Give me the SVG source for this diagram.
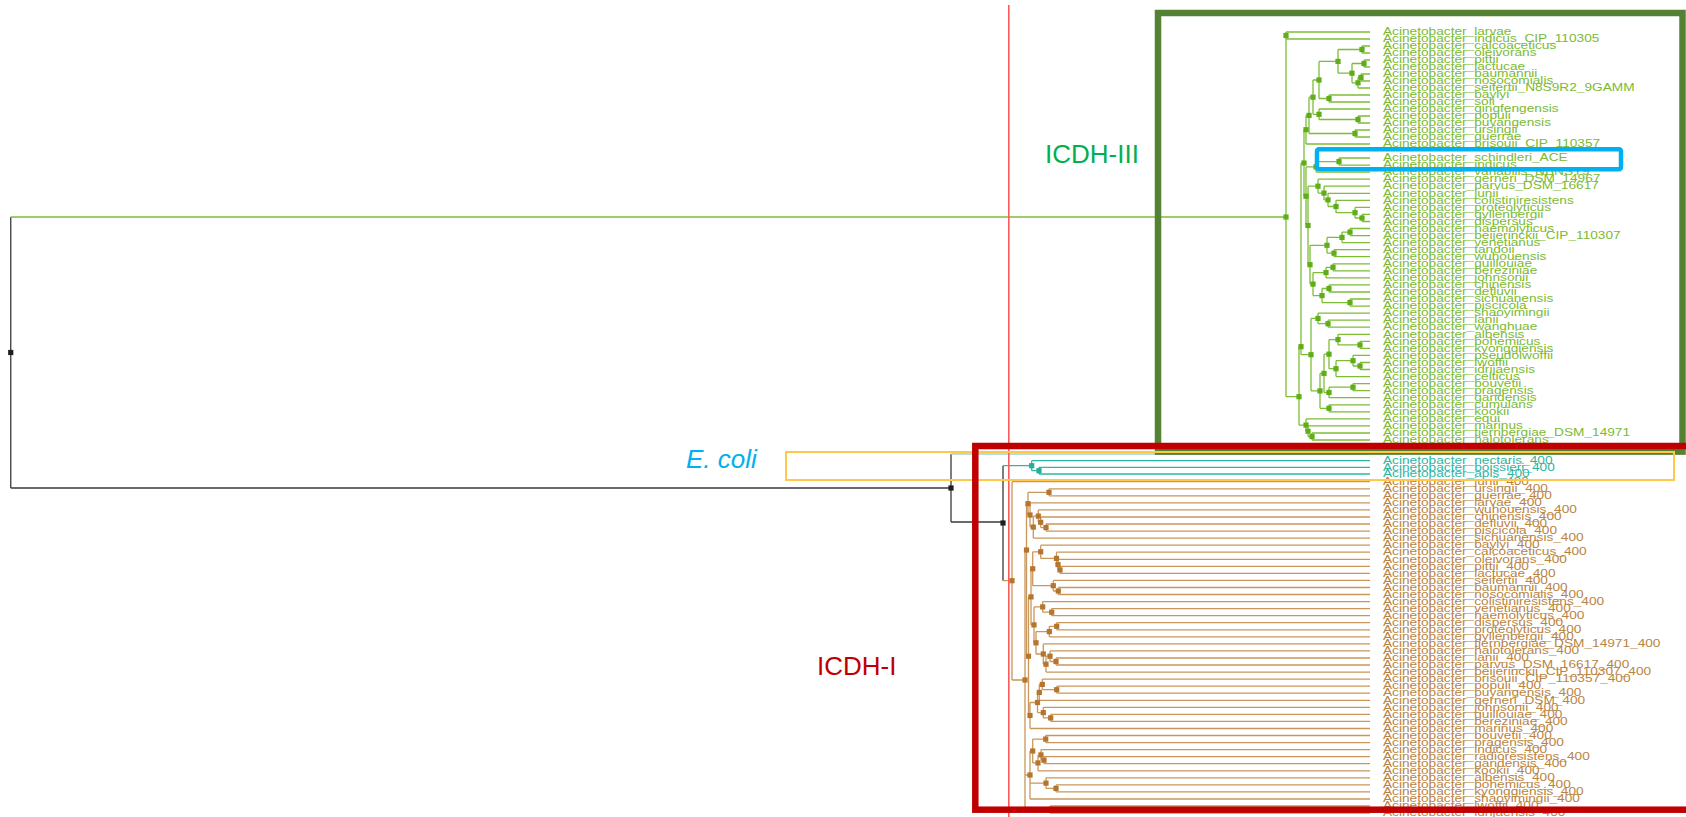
<svg xmlns="http://www.w3.org/2000/svg" xmlns:xlink="http://www.w3.org/1999/xlink" width="1686" height="817" viewBox="0 0 1686 817">
<style>
.gl{fill:none;stroke:#7dbd38;stroke-width:1.3}
.bl{fill:none;stroke:#c9975b;stroke-width:1.3}
.cl{fill:none;stroke:#2cb8a4;stroke-width:1.3}
.kl{fill:none;stroke:#3a3a3a;stroke-width:1.3}
.el{fill:none;stroke:#9fd2cf;stroke-width:1.3}
.lab text{font-family:"Liberation Sans",Arial,sans-serif;font-size:11.8px}
.tg text{fill:#7cba33}
.tb text{fill:#b98443}
.tc text{fill:#2fb4a4}
.big{font-family:"Liberation Sans",Arial,sans-serif;font-size:26px}
</style>
<defs>
<rect id="sq" x="-2.6" y="-2.6" width="5.2" height="5.2"/>
</defs>
<rect width="1686" height="817" fill="#ffffff"/>

<!-- connectors: branches of the tree -->
<g id="connectors">
<path class="kl" d="M10.75 217V488M10.75 488H951M951 454V522M951 522H1003M1003 465.7V580.7"/>
<path class="el" d="M951 454H1370"/>
<path class="gl" d="M10.75 217H1286M1286 32V39M1286 35.5V396.7"/>
<path class="gl" d="M1286 32H1370M1286 39H1370M1362 46H1370M1362 53H1370M1364 60H1370M1364 67H1370M1361 74H1370M1361 81H1370M1358 88H1370M1329 95H1370M1329 102H1370M1319 109H1370M1358 116H1370M1358 123H1370M1355 130H1370M1355 137H1370M1306 144H1370M1339 158H1370M1339 165.1H1370M1316 172.1H1370M1318 179.2H1370M1324 186.2H1370M1328 193.3H1370M1336 200.3H1370M1355 207.4H1370M1362 214.4H1370M1362 221.5H1370M1350 228.5H1370M1350 235.6H1370M1342 242.6H1370M1334 249.7H1370M1334 256.7H1370M1333 263.8H1370M1333 270.8H1370M1326 277.9H1370M1329 284.9H1370M1329 292H1370M1350 299H1370M1350 306.1H1370M1318 313.1H1370M1328 320.2H1370M1328 327.2H1370M1338 334.3H1370M1360 341.3H1370M1360 348.4H1370M1353 355.4H1370M1360 362.5H1370M1360 369.5H1370M1336 376.6H1370M1353 383.6H1370M1353 390.7H1370M1329 397.7H1370M1329 404.8H1370M1329 411.8H1370M1306 418.9H1370M1308 425.9H1370M1312 433H1370M1312 440H1370"/>
<path class="gl" d="M1338 49.5H1362M1362 46V53M1352 63.5H1364M1364 60V67M1358 77.5H1361M1361 74V81M1352 82.8H1358M1358 77.5V88M1338 73.2H1352M1352 63.5V82.8M1319 61.4H1338M1338 49.5V73.2M1319 98.5H1329M1329 95V102M1313 80H1319M1319 61.4V98.5M1319 119.5H1358M1358 116V123M1313 114.3H1319M1319 109V119.5M1309 97.2H1313M1313 80V114.3M1309 133.5H1355M1355 130V137M1306 115.4H1309M1309 97.2V133.5M1304 129.7H1306M1306 115.4V144M1316 161.6H1339M1339 158V165.1M1306 166.9H1316M1316 161.6V172.1M1355 218H1362M1362 214.4V221.5M1336 212.7H1355M1355 207.4V218M1328 206.5H1336M1336 200.3V212.7M1324 199.9H1328M1328 193.3V206.5M1318 193.1H1324M1324 186.2V199.9M1308 186.2H1318M1318 179.2V193.1M1342 232.1H1350M1350 228.5V235.6M1327 237.4H1342M1342 232.1V242.6M1327 253.2H1334M1334 249.7V256.7M1310 245.3H1327M1327 237.4V253.2M1326 267.3H1333M1333 263.8V270.8M1313 272.6H1326M1326 267.3V277.9M1322 288.5H1329M1329 284.9V292M1322 302.6H1350M1350 299V306.1M1313 295.6H1322M1322 288.5V302.6M1310 284.1H1313M1313 272.6V295.6M1308 264.7H1310M1310 245.3V284.1M1306 225.5H1308M1308 186.2V264.7M1304 196.2H1306M1306 166.9V225.5M1301 163H1304M1304 129.7V196.2M1318 323.7H1328M1328 320.2V327.2M1311 318.4H1318M1318 313.1V323.7M1338 344.9H1360M1360 341.3V348.4M1329 339.6H1338M1338 334.3V344.9M1353 366H1360M1360 362.5V369.5M1336 360.7H1353M1353 355.4V366M1329 368.7H1336M1336 360.7V376.6M1324 354.2H1329M1329 339.6V368.7M1329 387.2H1353M1353 383.6V390.7M1324 392.5H1329M1329 387.2V397.7M1320 373.4H1324M1324 354.2V392.5M1320 408.3H1329M1329 404.8V411.8M1311 390.9H1320M1320 373.4V408.3M1301 354.7H1311M1311 318.4V390.9M1308 436.5H1312M1312 433V440M1306 431.2H1308M1308 425.9V436.5M1299 425.1H1306M1306 418.9V431.2M1299 346.7H1301M1301 163V354.7M1286 396.7H1299M1299 346.7V425.1"/>
<path class="cl" d="M1003 465.7H1031.7M1031.7 460.7V470.7M1031.7 470.7H1039M1039 467.3V474M1031.7 460.7H1370M1039 467.3H1370M1039 474H1370"/>
<path class="bl" d="M1003 580.7H1012M1012 481.7V680M1012 680H1025M1025 550V809.5"/>
<path class="bl" d="M1012 481.7H1370M1049 488.8H1370M1049 495.8H1370M1030 502.9H1370M1038.3 509.9H1370M1040.7 517H1370M1046 524H1370M1046 531.1H1370M1033.3 538.1H1370M1040.7 545.2H1370M1056.5 552.2H1370M1058 559.3H1370M1060 566.3H1370M1060 573.4H1370M1053.3 580.4H1370M1058.3 587.5H1370M1058.3 594.5H1370M1042.7 601.6H1370M1051.7 608.6H1370M1051.7 615.7H1370M1056.7 622.7H1370M1056.7 629.8H1370M1049.3 636.8H1370M1043.3 643.9H1370M1050 650.9H1370M1056 658H1370M1056 665H1370M1046 672.1H1370M1042.3 679.1H1370M1056.7 686.2H1370M1056.7 693.2H1370M1039.3 700.3H1370M1043.3 707.3H1370M1050.7 714.4H1370M1050.7 721.4H1370M1030 728.5H1370M1045.7 735.5H1370M1045.7 742.6H1370M1041 749.6H1370M1044 756.7H1370M1044 763.7H1370M1038 770.8H1370M1046 777.8H1370M1056 784.9H1370M1056 791.9H1370M1030 799H1370M1050 806H1370M1050 813.1H1370"/>
<path class="bl" d="M1028 492.3H1049M1049 488.8V495.8M1040.7 527.6H1046M1046 524V531.1M1038.3 522.3H1040.7M1040.7 517V527.6M1033.3 516.1H1038.3M1038.3 509.9V522.3M1030 527.1H1033.3M1033.3 516.1V538.1M1028 515H1030M1030 502.9V527.1M1026.5 503.7H1028M1028 492.3V515M1058 569.9H1060M1060 566.3V573.4M1056.5 564.6H1058M1058 559.3V569.9M1040.7 558.4H1056.5M1056.5 552.2V564.6M1032.7 551.8H1040.7M1040.7 545.2V558.4M1053.3 591H1058.3M1058.3 587.5V594.5M1032.7 585.7H1053.3M1053.3 580.4V591M1031 568.8H1032.7M1032.7 551.8V585.7M1042.7 612.2H1051.7M1051.7 608.6V615.7M1034 606.9H1042.7M1042.7 601.6V612.2M1049.3 626.3H1056.7M1056.7 622.7V629.8M1036 631.6H1049.3M1049.3 626.3V636.8M1050 661.5H1056M1056 658V665M1046 656.2H1050M1050 650.9V661.5M1043.3 664.2H1046M1046 656.2V672.1M1036 654H1043.3M1043.3 643.9V664.2M1034 642.8H1036M1036 631.6V654M1031 624.9H1034M1034 606.9V642.8M1028.5 596.9H1031M1031 568.8V624.9M1042.3 689.7H1056.7M1056.7 686.2V693.2M1039.3 684.4H1042.3M1042.3 679.1V689.7M1037.5 692.4H1039.3M1039.3 684.4V700.3M1043.3 717.9H1050.7M1050.7 714.4V721.4M1037.5 712.6H1043.3M1043.3 707.3V717.9M1030 702.5H1037.5M1037.5 692.4V712.6M1028.5 715.5H1030M1030 702.5V728.5M1026.5 656.2H1028.5M1028.5 596.9V715.5M1025 550H1026.5M1026.5 503.7V656.2M1032.7 739.1H1045.7M1045.7 735.5V742.6M1041 760.2H1044M1044 756.7V763.7M1038 754.9H1041M1041 749.6V760.2M1032.7 762.9H1038M1038 754.9V770.8M1030 751H1032.7M1032.7 739.1V762.9M1046 788.4H1056M1056 784.9V791.9M1030 783.1H1046M1046 777.8V788.4M1025 775H1030M1030 751V799M1025 809.5H1050M1050 806V813.1"/>
</g>

<!-- internal node markers -->
<g id="nodes-root" fill="#1e1e1e">
<use xlink:href="#sq" x="10.75" y="352.5"/><use xlink:href="#sq" x="951" y="488"/><use xlink:href="#sq" x="1003" y="523"/>
</g>
<g id="nodes-icdh3" fill="#5fae18">
<use xlink:href="#sq" x="1286" y="35.5"/><use xlink:href="#sq" x="1286" y="217"/><use xlink:href="#sq" x="1299" y="396.7"/><use xlink:href="#sq" x="1301" y="346.7"/><use xlink:href="#sq" x="1304" y="163"/><use xlink:href="#sq" x="1306" y="129.7"/><use xlink:href="#sq" x="1309" y="115.4"/><use xlink:href="#sq" x="1313" y="97.2"/><use xlink:href="#sq" x="1319" y="80"/><use xlink:href="#sq" x="1338" y="61.4"/><use xlink:href="#sq" x="1352" y="73.2"/><use xlink:href="#sq" x="1362" y="49.5"/><use xlink:href="#sq" x="1364" y="63.5"/><use xlink:href="#sq" x="1358" y="82.8"/><use xlink:href="#sq" x="1361" y="77.5"/><use xlink:href="#sq" x="1329" y="98.5"/><use xlink:href="#sq" x="1319" y="114.3"/><use xlink:href="#sq" x="1358" y="119.5"/><use xlink:href="#sq" x="1355" y="133.5"/><use xlink:href="#sq" x="1306" y="196.2"/><use xlink:href="#sq" x="1316" y="166.9"/><use xlink:href="#sq" x="1339" y="161.6"/><use xlink:href="#sq" x="1308" y="225.5"/><use xlink:href="#sq" x="1318" y="186.2"/><use xlink:href="#sq" x="1324" y="193.1"/><use xlink:href="#sq" x="1328" y="199.9"/><use xlink:href="#sq" x="1336" y="206.5"/><use xlink:href="#sq" x="1355" y="212.7"/><use xlink:href="#sq" x="1362" y="218"/><use xlink:href="#sq" x="1310" y="264.7"/><use xlink:href="#sq" x="1327" y="245.3"/><use xlink:href="#sq" x="1342" y="237.4"/><use xlink:href="#sq" x="1350" y="232.1"/><use xlink:href="#sq" x="1334" y="253.2"/><use xlink:href="#sq" x="1313" y="284.1"/><use xlink:href="#sq" x="1326" y="272.6"/><use xlink:href="#sq" x="1333" y="267.3"/><use xlink:href="#sq" x="1322" y="295.6"/><use xlink:href="#sq" x="1329" y="288.5"/><use xlink:href="#sq" x="1350" y="302.6"/><use xlink:href="#sq" x="1311" y="354.7"/><use xlink:href="#sq" x="1318" y="318.4"/><use xlink:href="#sq" x="1328" y="323.7"/><use xlink:href="#sq" x="1320" y="390.9"/><use xlink:href="#sq" x="1324" y="373.4"/><use xlink:href="#sq" x="1329" y="354.2"/><use xlink:href="#sq" x="1338" y="339.6"/><use xlink:href="#sq" x="1360" y="344.9"/><use xlink:href="#sq" x="1336" y="368.7"/><use xlink:href="#sq" x="1353" y="360.7"/><use xlink:href="#sq" x="1360" y="366"/><use xlink:href="#sq" x="1329" y="392.5"/><use xlink:href="#sq" x="1353" y="387.2"/><use xlink:href="#sq" x="1329" y="408.3"/><use xlink:href="#sq" x="1306" y="425.1"/><use xlink:href="#sq" x="1308" y="431.2"/><use xlink:href="#sq" x="1312" y="436.5"/>
</g>
<g id="nodes-ecoli" fill="#22b09c">
<use xlink:href="#sq" x="1031.7" y="465.7"/><use xlink:href="#sq" x="1039" y="470.7"/>
</g>
<g id="nodes-icdh1" fill="#b5752f">
<use xlink:href="#sq" x="1012" y="580.7"/><use xlink:href="#sq" x="1025" y="680"/><use xlink:href="#sq" x="1026.5" y="550"/><use xlink:href="#sq" x="1028" y="503.7"/><use xlink:href="#sq" x="1049" y="492.3"/><use xlink:href="#sq" x="1030" y="515"/><use xlink:href="#sq" x="1033.3" y="527.1"/><use xlink:href="#sq" x="1038.3" y="516.1"/><use xlink:href="#sq" x="1040.7" y="522.3"/><use xlink:href="#sq" x="1046" y="527.6"/><use xlink:href="#sq" x="1028.5" y="656.2"/><use xlink:href="#sq" x="1031" y="596.9"/><use xlink:href="#sq" x="1032.7" y="568.8"/><use xlink:href="#sq" x="1040.7" y="551.8"/><use xlink:href="#sq" x="1056.5" y="558.4"/><use xlink:href="#sq" x="1058" y="564.6"/><use xlink:href="#sq" x="1060" y="569.9"/><use xlink:href="#sq" x="1053.3" y="585.7"/><use xlink:href="#sq" x="1058.3" y="591"/><use xlink:href="#sq" x="1034" y="624.9"/><use xlink:href="#sq" x="1042.7" y="606.9"/><use xlink:href="#sq" x="1051.7" y="612.2"/><use xlink:href="#sq" x="1036" y="642.8"/><use xlink:href="#sq" x="1049.3" y="631.6"/><use xlink:href="#sq" x="1056.7" y="626.3"/><use xlink:href="#sq" x="1043.3" y="654"/><use xlink:href="#sq" x="1046" y="664.2"/><use xlink:href="#sq" x="1050" y="656.2"/><use xlink:href="#sq" x="1056" y="661.5"/><use xlink:href="#sq" x="1030" y="715.5"/><use xlink:href="#sq" x="1037.5" y="702.5"/><use xlink:href="#sq" x="1039.3" y="692.4"/><use xlink:href="#sq" x="1042.3" y="684.4"/><use xlink:href="#sq" x="1056.7" y="689.7"/><use xlink:href="#sq" x="1043.3" y="712.6"/><use xlink:href="#sq" x="1050.7" y="717.9"/><use xlink:href="#sq" x="1030" y="775"/><use xlink:href="#sq" x="1032.7" y="751"/><use xlink:href="#sq" x="1045.7" y="739.1"/><use xlink:href="#sq" x="1038" y="762.9"/><use xlink:href="#sq" x="1041" y="754.9"/><use xlink:href="#sq" x="1044" y="760.2"/><use xlink:href="#sq" x="1046" y="783.1"/><use xlink:href="#sq" x="1056" y="788.4"/><use xlink:href="#sq" x="1050" y="809.5"/>
</g>

<!-- leaf labels -->
<g class="lab tg" id="labels-icdh3" transform="translate(1383 0) scale(1.16 1)">
<text y="35.3">Acinetobacter_larvae</text>
<text y="42.3">Acinetobacter_indicus_CIP_110305</text>
<text y="49.3">Acinetobacter_calcoaceticus</text>
<text y="56.3">Acinetobacter_oleivorans</text>
<text y="63.3">Acinetobacter_pittii</text>
<text y="70.3">Acinetobacter_lactucae</text>
<text y="77.3">Acinetobacter_baumannii</text>
<text y="84.3">Acinetobacter_nosocomialis</text>
<text y="91.3">Acinetobacter_seifertii_N8S9R2_9GAMM</text>
<text y="98.3">Acinetobacter_baylyi</text>
<text y="105.3">Acinetobacter_soli</text>
<text y="112.3">Acinetobacter_qingfengensis</text>
<text y="119.3">Acinetobacter_populi</text>
<text y="126.3">Acinetobacter_puyangensis</text>
<text y="133.3">Acinetobacter_ursingii</text>
<text y="140.3">Acinetobacter_guerrae</text>
<text y="147.3">Acinetobacter_brisouii_CIP_110357</text>
<text y="161.3">Acinetobacter_schindleri_ACE</text>
<text y="168.4">Acinetobacter_indicus</text>
<text y="175.4">Acinetobacter_variabilis_NBNSY9</text>
<text y="182.5">Acinetobacter_gerneri_DSM_14967</text>
<text y="189.5">Acinetobacter_parvus_DSM_16617</text>
<text y="196.6">Acinetobacter_junii</text>
<text y="203.6">Acinetobacter_colistiniresistens</text>
<text y="210.7">Acinetobacter_proteolyticus</text>
<text y="217.7">Acinetobacter_gyllenbergii</text>
<text y="224.8">Acinetobacter_dispersus</text>
<text y="231.8">Acinetobacter_haemolyticus</text>
<text y="238.9">Acinetobacter_beijerinckii_CIP_110307</text>
<text y="245.9">Acinetobacter_venetianus</text>
<text y="253">Acinetobacter_tandoii</text>
<text y="260">Acinetobacter_wuhouensis</text>
<text y="267.1">Acinetobacter_guillouiae</text>
<text y="274.1">Acinetobacter_bereziniae</text>
<text y="281.2">Acinetobacter_johnsonii</text>
<text y="288.2">Acinetobacter_chinensis</text>
<text y="295.3">Acinetobacter_defluvii</text>
<text y="302.3">Acinetobacter_sichuanensis</text>
<text y="309.4">Acinetobacter_piscicola</text>
<text y="316.4">Acinetobacter_shaoyimingii</text>
<text y="323.5">Acinetobacter_lanii</text>
<text y="330.5">Acinetobacter_wanghuae</text>
<text y="337.6">Acinetobacter_albensis</text>
<text y="344.6">Acinetobacter_bohemicus</text>
<text y="351.7">Acinetobacter_kyonggiensis</text>
<text y="358.7">Acinetobacter_pseudolwoffii</text>
<text y="365.8">Acinetobacter_lwoffii</text>
<text y="372.8">Acinetobacter_idrijaensis</text>
<text y="379.9">Acinetobacter_celticus</text>
<text y="386.9">Acinetobacter_bouvetii</text>
<text y="394">Acinetobacter_pragensis</text>
<text y="401">Acinetobacter_gandensis</text>
<text y="408.1">Acinetobacter_cumulans</text>
<text y="415.1">Acinetobacter_kookii</text>
<text y="422.2">Acinetobacter_equi</text>
<text y="429.2">Acinetobacter_marinus</text>
<text y="436.3">Acinetobacter_tjernbergiae_DSM_14971</text>
<text y="443.3">Acinetobacter_halotolerans</text>
</g>
<g class="lab tc" id="labels-ecoli" transform="translate(1383 0) scale(1.16 1)">
<text y="464">Acinetobacter_nectaris_400</text>
<text y="470.6">Acinetobacter_boissieri_400</text>
<text y="477.3">Acinetobacter_apis_400</text>
</g>
<g class="lab tb" id="labels-icdh1" transform="translate(1383 0) scale(1.16 1)">
<text y="485">Acinetobacter_junii_400</text>
<text y="492.1">Acinetobacter_ursingii_400</text>
<text y="499.1">Acinetobacter_guerrae_400</text>
<text y="506.2">Acinetobacter_larvae_400</text>
<text y="513.2">Acinetobacter_wuhouensis_400</text>
<text y="520.3">Acinetobacter_chinensis_400</text>
<text y="527.3">Acinetobacter_defluvii_400</text>
<text y="534.4">Acinetobacter_piscicola_400</text>
<text y="541.4">Acinetobacter_sichuanensis_400</text>
<text y="548.5">Acinetobacter_baylyi_400</text>
<text y="555.5">Acinetobacter_calcoaceticus_400</text>
<text y="562.6">Acinetobacter_oleivorans_400</text>
<text y="569.6">Acinetobacter_pittii_400</text>
<text y="576.7">Acinetobacter_lactucae_400</text>
<text y="583.7">Acinetobacter_seifertii_400</text>
<text y="590.8">Acinetobacter_baumannii_400</text>
<text y="597.8">Acinetobacter_nosocomialis_400</text>
<text y="604.9">Acinetobacter_colistiniresistens_400</text>
<text y="611.9">Acinetobacter_venetianus_400</text>
<text y="619">Acinetobacter_haemolyticus_400</text>
<text y="626">Acinetobacter_dispersus_400</text>
<text y="633.1">Acinetobacter_proteolyticus_400</text>
<text y="640.1">Acinetobacter_gyllenbergii_400</text>
<text y="647.2">Acinetobacter_tjernbergiae_DSM_14971_400</text>
<text y="654.2">Acinetobacter_halotolerans_400</text>
<text y="661.3">Acinetobacter_lanii_400</text>
<text y="668.3">Acinetobacter_parvus_DSM_16617_400</text>
<text y="675.4">Acinetobacter_beijerinckii_CIP_110307_400</text>
<text y="682.4">Acinetobacter_brisouii_CIP_110357_400</text>
<text y="689.5">Acinetobacter_populi_400</text>
<text y="696.5">Acinetobacter_puyangensis_400</text>
<text y="703.6">Acinetobacter_gerneri_DSM_400</text>
<text y="710.6">Acinetobacter_johnsonii_400</text>
<text y="717.7">Acinetobacter_guillouiae_400</text>
<text y="724.7">Acinetobacter_bereziniae_400</text>
<text y="731.8">Acinetobacter_marinus_400</text>
<text y="738.8">Acinetobacter_bouvetii_400</text>
<text y="745.9">Acinetobacter_pragensis_400</text>
<text y="752.9">Acinetobacter_indicus_400</text>
<text y="760">Acinetobacter_radioresistens_400</text>
<text y="767">Acinetobacter_gandensis_400</text>
<text y="774.1">Acinetobacter_kookii_400</text>
<text y="781.1">Acinetobacter_albensis_400</text>
<text y="788.2">Acinetobacter_bohemicus_400</text>
<text y="795.2">Acinetobacter_kyonggiensis_400</text>
<text y="802.3">Acinetobacter_shaoyimingii_400</text>
<text y="809.3">Acinetobacter_lwoffii_400</text>
<text y="816.4">Acinetobacter_idrijaensis_400</text>
</g>

<!-- reference line and group frames -->
<line x1="1008.8" y1="5" x2="1008.8" y2="817" stroke="#ff5a5a" stroke-width="1.6"/>
<g id="frame-icdh3"><rect x="1158" y="13" width="524.5" height="438.6" fill="none" stroke="#548235" stroke-width="6.5"/></g>
<g id="frame-ecoli"><rect x="786" y="452" width="888" height="28" fill="none" stroke="#ffc84a" stroke-width="2"/></g>
<g id="frame-icdh1"><rect x="975.3" y="446" width="714" height="363.7" fill="none" stroke="#c00000" stroke-width="6.5"/></g>
<g id="frame-ace"><rect x="1317" y="149.3" width="304" height="20" rx="2" fill="none" stroke="#00b0f0" stroke-width="4.5"/></g>

<text class="big" x="1045" y="163" fill="#00b050">ICDH-III</text>
<text class="big" x="817" y="675" fill="#c00000">ICDH-I</text>
<text class="big" x="686" y="468" fill="#00b0f0" font-style="italic">E. coli</text>
</svg>
